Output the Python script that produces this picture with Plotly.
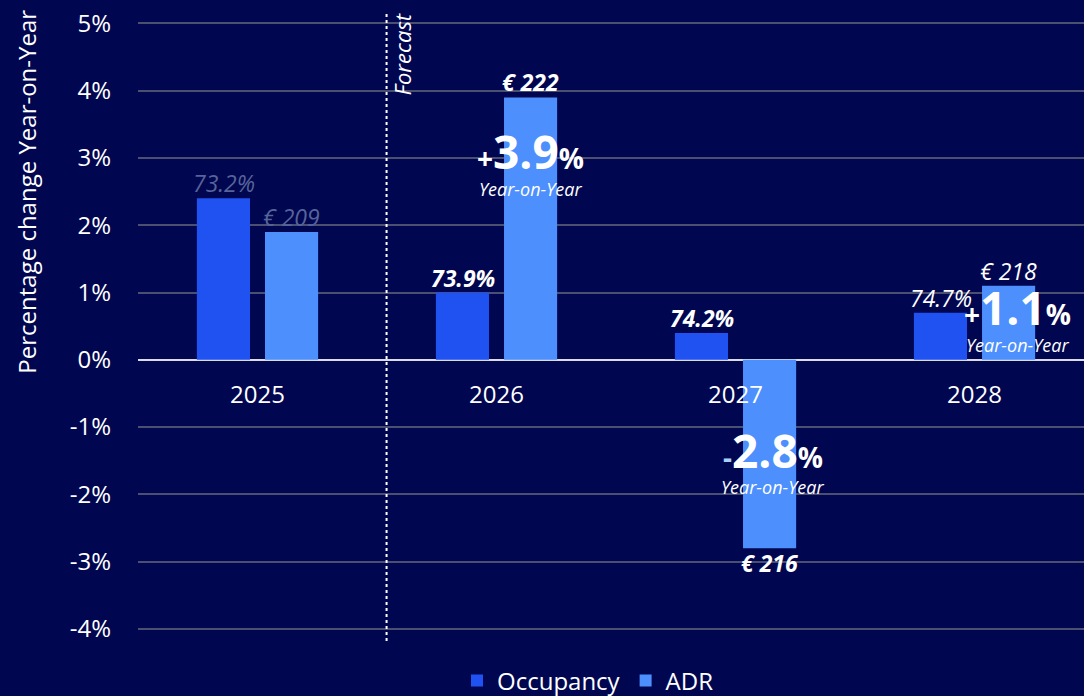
import plotly.graph_objects as go

years = ["2025", "2026", "2027", "2028"]
occupancy_change = [2.4, 1.0, 0.4, 0.7]
adr_change = [1.9, 3.9, -2.8, 1.1]
occupancy_level = ["73.2%", "73.9%", "74.2%", "74.7%"]
adr_level = ["€ 209", "€ 222", "€ 216", "€ 218"]
y_ticks = [5, 4, 3, 2, 1, 0, -1, -2, -3, -4]

BG = "#00064f"
OCC = "#2052f2"
ADR = "#4c8ffd"
FONT = "Open Sans"

fig = go.Figure()
fig.add_trace(go.Bar(name="Occupancy", x=years, y=occupancy_change, marker_color=OCC,
                     marker_line_width=0, hoverinfo="skip"))
fig.add_trace(go.Bar(name="ADR", x=years, y=adr_change, marker_color=ADR,
                     marker_line_width=0, hoverinfo="skip"))

# label styles per year: (color, bold)
styles = [("#56649a", False), ("#ffffff", True), ("#ffffff", True), ("#ffffff", False)]
ann = []
for i, yr in enumerate(years):
    # category label sitting under the zero line
    ann.append(dict(x=i, y=0, xref="x", yref="y", yshift=-34, yanchor="middle",
                    text=yr, showarrow=False,
                    font=dict(family=FONT, size=24, color="#ffffff")))
    col, bold = styles[i]
    for val, txt, shift in ((occupancy_change[i], occupancy_level[i], -34),
                            (adr_change[i], adr_level[i], 34)):
        t = f"<b><i>{txt}</i></b>" if bold else f"<i>{txt}</i>"
        ann.append(dict(x=i, y=val, xref="x", yref="y", xshift=shift,
                        yshift=-3 if val >= 0 else 3,
                        yanchor="bottom" if val >= 0 else "top",
                        text=t, showarrow=False,
                        font=dict(family=FONT, size=23, color=col)))

# big YoY annotations for forecast ADR: (y position, x shift px, sub-label shift px)
yoy_pos = {1: (3.1, 34, -38), 2: (-1.34, 37, -37), 3: (0.79, 43, -38)}
for i, (ypos, xs, ys) in yoy_pos.items():
    v = adr_change[i]
    sign = "+" if v >= 0 else "-"
    sign_col = "#ffffff" if v >= 0 else "#a8cff7"
    txt = (f"<b><span style='font-size:28px;color:{sign_col}'>{sign}</span>{abs(v):.1f}"
           f"<span style='font-size:28px'>%</span></b>")
    ann.append(dict(x=i, y=ypos, xref="x", yref="y", xshift=xs,
                    text=txt, showarrow=False, yanchor="middle",
                    font=dict(family=FONT, size=46, color="#ffffff")))
    ann.append(dict(x=i, y=ypos, xref="x", yref="y", xshift=xs,
                    yshift=ys, text="<i>Year-on-Year</i>", showarrow=False, yanchor="middle",
                    font=dict(family=FONT, size=18, color="#ffffff")))

# Forecast label
ann.append(dict(x=0.54, y=1, xref="x", yref="paper", xshift=15, yanchor="top",
                text="<i>Forecast</i>", textangle=-90, showarrow=False,
                font=dict(family=FONT, size=22, color="#ffffff")))

# y-axis title (placed above centre, as in the original)
ann.append(dict(x=-0.1173, y=2.5, xref="paper", yref="y", xanchor="center", yanchor="middle",
                text="Percentage change Year-on-Year", textangle=-90, showarrow=False,
                font=dict(family=FONT, size=24, color="#ffffff")))

fig.update_layout(
    annotations=ann,
    width=1084, height=696,
    paper_bgcolor=BG, plot_bgcolor=BG,
    margin=dict(l=138, r=0, t=12, b=55, autoexpand=False),
    barmode="group", bargap=0.43, bargroupgap=0.22,
    font=dict(family=FONT, size=24, color="#ffffff"),
    showlegend=True,
    legend=dict(orientation="h", x=588 / 1084, xref="container", xanchor="center",
                y=15 / 696, yref="container", yanchor="middle",
                font=dict(family=FONT, size=24, color="#ffffff"), bgcolor="rgba(0,0,0,0)",
                itemwidth=30, traceorder="normal"),
    shapes=[dict(type="line", xref="x", yref="paper", x0=0.54, x1=0.54, y0=0, y1=1,
                 line=dict(color="#ffffff", width=2, dash="dot"))],
)
fig.update_xaxes(type="category", range=[-0.5, 3.458], showgrid=False, zeroline=False,
                 showline=False, ticks="", showticklabels=False, automargin=False)
fig.update_yaxes(range=[-4.18, 5.17], tickvals=y_ticks, ticktext=[f"{v}%" for v in y_ticks],
                 showgrid=True, gridcolor="#4b5071", gridwidth=2, automargin=False,
                 zeroline=True, zerolinecolor="#dcdce6", zerolinewidth=2,
                 tickfont=dict(family=FONT, size=24, color="#ffffff"), ticks="",
                 ticklabelstandoff=26)

fig.write_html("out.html", config={"displayModeBar": False},
               post_script="document.body.style.margin='0';document.body.style.overflow='hidden';")
